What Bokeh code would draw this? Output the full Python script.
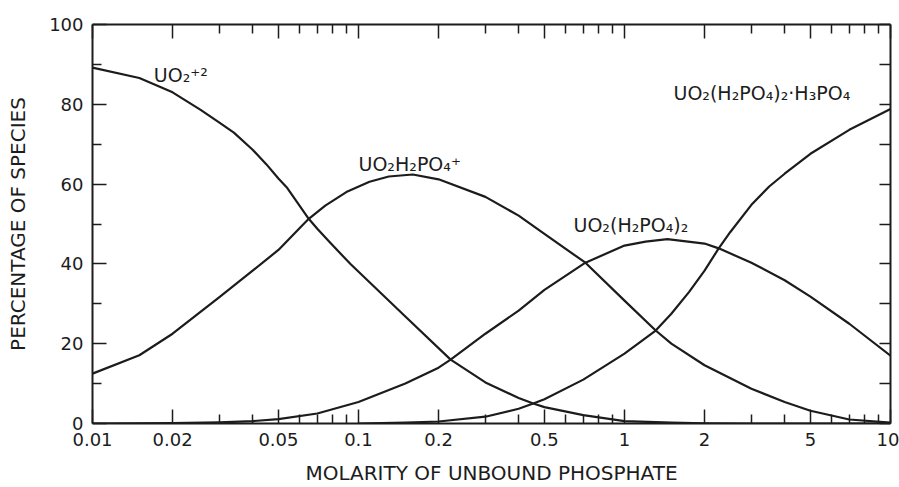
from bokeh.plotting import figure
from bokeh.models import Range1d, LogAxis, LinearAxis, FixedTicker, Label, CustomJSTickFormatter
from bokeh.embed import file_html
from bokeh.resources import INLINE

# ---- data (x = molarity of unbound phosphate, y = % of species) ----
x_uo2 = [0.01, 0.015, 0.02, 0.0255, 0.03, 0.034, 0.04, 0.045, 0.05, 0.054, 0.065, 0.07,
         0.078, 0.0935, 0.15, 0.222, 0.3, 0.4, 0.454, 0.5, 0.7, 1, 1.5, 2, 3, 10]
pct_uo2 = [89.2, 86.6, 83.0, 78.6, 75.4, 72.9, 68.6, 65.0, 61.4, 59.0, 51.3, 48.8,
           45.4, 39.9, 26.8, 16.0, 10.3, 6.4, 5.0, 4.1, 2.1, 0.6, 0.2, 0.05, 0, 0]

x_uo2h2po4 = [0.01, 0.015, 0.02, 0.03, 0.04, 0.05, 0.065, 0.075, 0.09, 0.11, 0.13, 0.16,
              0.2, 0.3, 0.4, 0.5, 0.713, 1, 1.31, 1.5, 2, 3, 4, 5, 7, 10]
pct_uo2h2po4 = [12.5, 17.1, 22.5, 31.7, 38.3, 43.5, 51.3, 54.6, 58.0, 60.6, 61.9, 62.4,
                61.2, 56.8, 52.1, 47.5, 40.3, 30.8, 23.3, 20.0, 14.6, 8.7, 5.4, 3.2, 1.0, 0.2]

x_uo2h2po4_2 = [0.01, 0.02, 0.03, 0.04, 0.05, 0.07, 0.1, 0.15, 0.2, 0.222, 0.3, 0.4,
                0.5, 0.713, 1, 1.2, 1.45, 2, 2.26, 3, 4, 5, 7, 10]
pct_uo2h2po4_2 = [0.0, 0.1, 0.3, 0.6, 1.1, 2.5, 5.4, 10.0, 14.0, 16.0, 22.5, 28.3,
                  33.5, 40.3, 44.6, 45.6, 46.2, 45.1, 43.9, 40.3, 35.9, 31.8, 25.0, 17.0]

x_uo2h2po4_2_h3po4 = [0.1, 0.15, 0.2, 0.3, 0.4, 0.454, 0.5, 0.7, 1, 1.31, 1.5, 1.75, 2,
                      2.26, 2.5, 3, 3.5, 4, 5, 7, 10]
pct_uo2h2po4_2_h3po4 = [0.0, 0.2, 0.5, 1.7, 3.7, 5.0, 6.1, 11.0, 17.5, 23.3, 27.5, 33.0, 38.3,
                        43.9, 48.0, 54.8, 59.4, 62.6, 67.6, 73.6, 78.8]

series_names = ["UO₂⁺²", "UO₂H₂PO₄⁺", "UO₂(H₂PO₄)₂", "UO₂(H₂PO₄)₂·H₃PO₄"]

x_ticks = [0.01, 0.02, 0.05, 0.1, 0.2, 0.5, 1, 2, 5, 10]
x_tick_labels = ["0.01", "0.02", "0.05", "0.1", "0.2", "0.5", "1", "2", "5", "10"]
x_minor_ticks = [0.03, 0.04, 0.06, 0.07, 0.08, 0.09, 0.3, 0.4, 0.6, 0.7, 0.8, 0.9,
                 3, 4, 6, 7, 8, 9]
y_ticks = [0, 20, 40, 60, 80, 100]
y_minor_ticks = [10, 30, 50, 70, 90]

FONT = "DejaVu Sans"
INK = "#1c1c1c"

p = figure(width=899, height=487, x_axis_type="log",
           x_range=Range1d(0.01, 10), y_range=Range1d(0, 100),
           output_backend="svg", toolbar_location=None,
           min_border_left=92, min_border_right=9, min_border_top=24, min_border_bottom=64)
p.grid.visible = False
p.outline_line_color = None
p.background_fill_color = "white"
p.border_fill_color = "white"

for xs, ys in [(x_uo2, pct_uo2), (x_uo2h2po4, pct_uo2h2po4),
               (x_uo2h2po4_2, pct_uo2h2po4_2), (x_uo2h2po4_2_h3po4, pct_uo2h2po4_2_h3po4)]:
    p.line(xs, ys, line_color=INK, line_width=2.2, line_join="round")

xt = FixedTicker(ticks=x_ticks, minor_ticks=x_minor_ticks)
yt = FixedTicker(ticks=y_ticks, minor_ticks=y_minor_ticks)

def style(ax):
    ax.axis_line_color = INK
    ax.axis_line_width = 2
    ax.major_tick_line_color = INK
    ax.minor_tick_line_color = INK
    ax.major_tick_line_width = 1.5
    ax.minor_tick_line_width = 1.5
    ax.major_tick_out = 0
    ax.minor_tick_out = 0
    ax.major_tick_in = 14
    ax.minor_tick_in = 9
    ax.major_label_text_font = FONT
    ax.major_label_text_font_size = "18px"
    ax.major_label_text_color = INK
    ax.axis_label_text_font = FONT
    ax.axis_label_text_font_size = "20px"
    ax.axis_label_text_font_style = "normal"
    ax.axis_label_text_color = INK

xa = p.xaxis[0]
xa.ticker = xt
xa.major_label_overrides = dict(zip(x_ticks, x_tick_labels))
xa.axis_label = "MOLARITY OF UNBOUND PHOSPHATE"
xa.major_label_standoff = 9
xa.axis_label_standoff = 12
style(xa)

ya = p.yaxis[0]
ya.ticker = yt
ya.axis_label = "PERCENTAGE OF SPECIES"
ya.major_label_standoff = 9
ya.axis_label_standoff = 16
style(ya)

top = LogAxis(ticker=xt, formatter=CustomJSTickFormatter(code="return ''"))
style(top)
top.major_label_standoff = 0
p.add_layout(top, "above")

right = LinearAxis(ticker=yt, formatter=CustomJSTickFormatter(code="return ''"))
style(right)
right.major_label_standoff = 0
right.minor_tick_in = 11
right.major_tick_in = 11
p.add_layout(right, "right")

label_pos = [(0.0170, 87.3), (0.100, 65.1), (0.643, 49.8), (1.528, 82.8)]
for name, (lx, ly) in zip(series_names, label_pos):
    p.add_layout(Label(x=lx, y=ly, text=name, text_font=FONT, text_font_size="19px",
                       text_color=INK, text_align="left", text_baseline="alphabetic"))

open("out.html", "w").write(file_html(p, INLINE))
